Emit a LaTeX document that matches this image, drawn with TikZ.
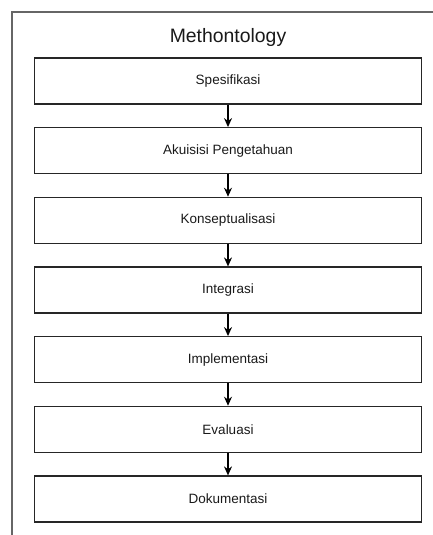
\documentclass[tikz,border=0pt]{standalone}
\usepackage{fontspec}
\setmainfont{Liberation Sans}
\usetikzlibrary{arrows.meta}
\begin{document}
\begin{tikzpicture}[x=1pt,y=-1pt,
  stepbox/.style={draw=black!85,line width=1.2pt,minimum width=387.5pt,minimum height=46pt,inner sep=0pt,font=\fontsize{13.5}{16}\selectfont,text=black!90},
  flow/.style={draw=black,line width=1.1pt,-{Stealth[length=9pt,width=8pt]}},
  frame/.style={draw=black!60,line width=1.5pt}]
\useasboundingbox (0,0) rectangle (432,535);
\draw[frame] (440,12) -- (12,12) -- (12,545);
\node[font=\fontsize{19.4}{22}\selectfont,text=black!90,anchor=base] (title) at (228,42.7) {Methontology};
\node[stepbox] (b1) at (228,81) {Spesifikasi};
\node[stepbox] (b2) at (228,150.67) {Akuisisi Pengetahuan};
\node[stepbox] (b3) at (228,220.33) {Konseptualisasi};
\node[stepbox] (b4) at (228,290) {Integrasi};
\node[stepbox] (b5) at (228,359.67) {Implementasi};
\node[stepbox] (b6) at (228,429.33) {Evaluasi};
\node[stepbox] (b7) at (228,499) {Dokumentasi};
\foreach \a/\b in {b1/b2,b2/b3,b3/b4,b4/b5,b5/b6,b6/b7}
  \draw[flow] (\a) -- (\b);
\end{tikzpicture}
\end{document}
